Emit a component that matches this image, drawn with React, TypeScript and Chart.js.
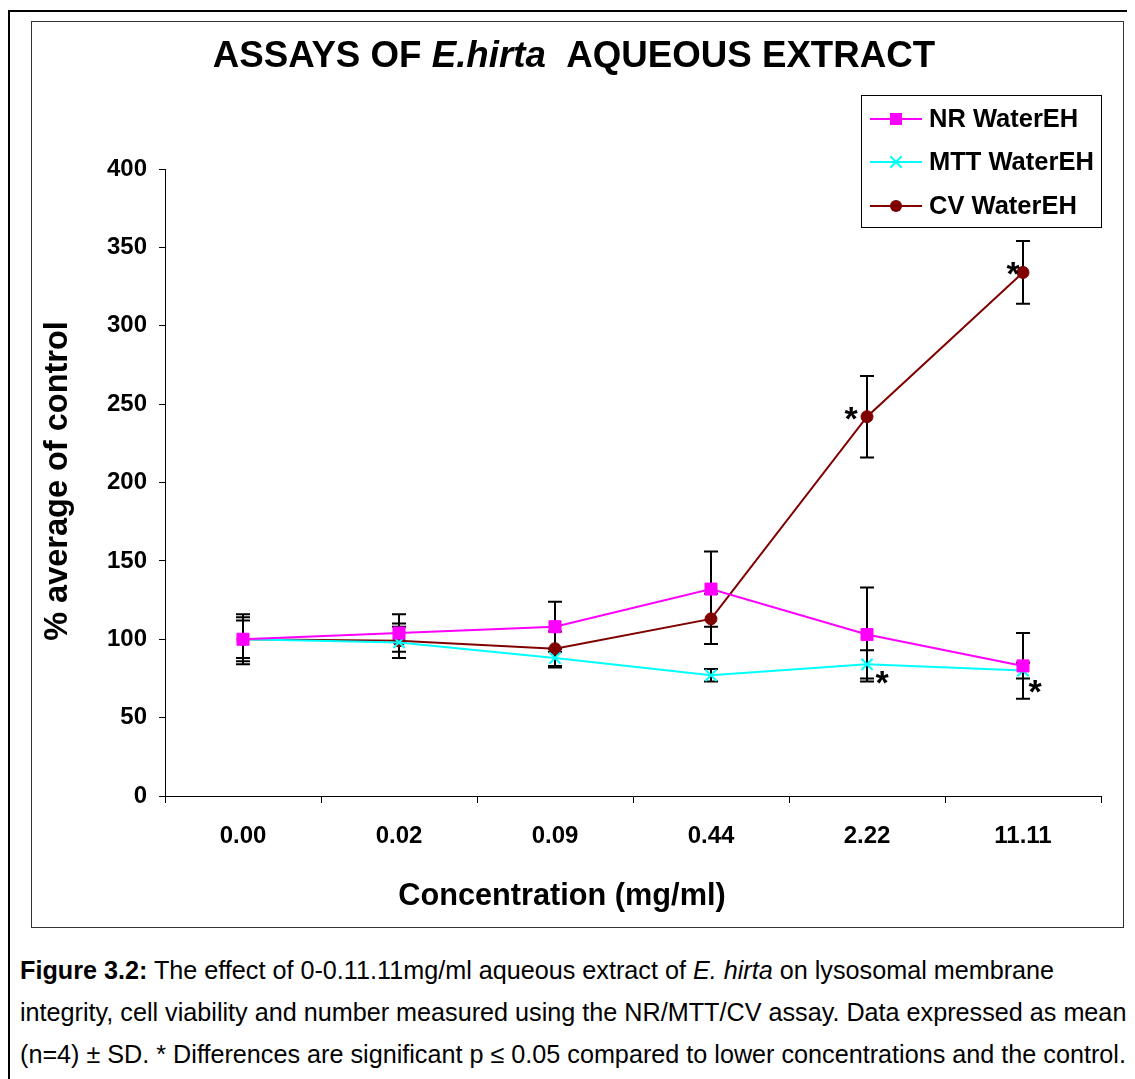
import React, { useEffect, useRef } from "react";
import { Chart, registerables } from "chart.js";

Chart.register(...registerables);

const FONT = "'Liberation Sans', Arial, sans-serif";

const categories = ["0.00", "0.02", "0.09", "0.44", "2.22", "11.11"];
const nrValues = [100, 104, 108, 132, 103, 83];
const nrSD = [14, 12, 16, 24, 30, 21];
const mttValues = [100, 98, 88, 77, 84, 80];
const mttSD = [12, 10, 6, 4, 9, 5];
const cvValues = [100, 99, 94, 113, 242, 334];
const cvSD = [16, 11, 11, 16, 26, 20];
const seriesNames = ["NR WaterEH", "MTT WaterEH", "CV WaterEH"];
const cvSignificant = [false, false, false, false, true, true];
const mttSignificant = [false, false, false, false, true, true];
const yTicks = { min: 0, max: 400, step: 50 };

const COLORS = ["#FF00FF", "#00FFFF", "#800000"];

function drawMarker(ctx: CanvasRenderingContext2D, style: string, color: string, cx: number, cy: number) {
  ctx.save();
  ctx.fillStyle = color;
  ctx.strokeStyle = color;
  if (style === "rect") {
    ctx.fillRect(cx - 6, cy - 6, 12, 12);
  } else if (style === "circle") {
    ctx.beginPath();
    ctx.arc(cx, cy, 6, 0, Math.PI * 2);
    ctx.fill();
  } else {
    ctx.lineWidth = 2;
    const r = 5.7;
    ctx.beginPath();
    ctx.moveTo(cx - r, cy - r);
    ctx.lineTo(cx + r, cy + r);
    ctx.moveTo(cx - r, cy + r);
    ctx.lineTo(cx + r, cy - r);
    ctx.stroke();
  }
  ctx.restore();
}

const errorBarPlugin = {
  id: "errorBars",
  beforeDatasetsDraw(chart: any) {
    const ctx = chart.ctx;
    const x = chart.scales.x;
    const y = chart.scales.y;
    const sets = [
      [nrValues, nrSD],
      [mttValues, mttSD],
      [cvValues, cvSD],
    ];
    ctx.save();
    ctx.strokeStyle = "#000";
    ctx.lineWidth = 2;
    sets.forEach(([vals, sds]) => {
      vals.forEach((v: number, i: number) => {
        const px = x.getPixelForValue(i);
        const top = y.getPixelForValue(v + sds[i]);
        const bot = y.getPixelForValue(v - sds[i]);
        ctx.beginPath();
        ctx.moveTo(px, top);
        ctx.lineTo(px, bot);
        ctx.moveTo(px - 7, top);
        ctx.lineTo(px + 7, top);
        ctx.moveTo(px - 7, bot);
        ctx.lineTo(px + 7, bot);
        ctx.stroke();
      });
    });
    ctx.restore();
  },
};

const decorPlugin = {
  id: "decor",
  afterDraw(chart: any) {
    const ctx = chart.ctx;
    const x = chart.scales.x;
    const y = chart.scales.y;
    ctx.save();

    // Title with italic part
    const parts = [
      { t: "ASSAYS OF ", f: `bold 36.7px ${FONT}` },
      { t: "E.hirta", f: `italic bold 36.7px ${FONT}` },
      { t: "  AQUEOUS EXTRACT", f: `bold 36.7px ${FONT}` },
    ];
    let total = 0;
    parts.forEach((p) => {
      ctx.font = p.f;
      total += ctx.measureText(p.t).width;
    });
    let tx = 543 - total / 2;
    ctx.fillStyle = "#000";
    ctx.textBaseline = "middle";
    ctx.textAlign = "left";
    parts.forEach((p) => {
      ctx.font = p.f;
      ctx.fillText(p.t, tx, 35);
      tx += ctx.measureText(p.t).width;
    });

    // Axis titles
    ctx.textAlign = "center";
    ctx.font = `bold 30.7px ${FONT}`;
    ctx.fillText("Concentration (mg/ml)", 531, 875);
    ctx.save();
    ctx.translate(27, 459);
    ctx.rotate(-Math.PI / 2);
    ctx.font = `bold 32.5px ${FONT}`;
    ctx.fillText("% average of control", 0, 0);
    ctx.restore();

    // Significance asterisks
    ctx.font = `bold 34px ${FONT}`;
    ctx.textBaseline = "alphabetic";
    const star = (i: number, v: number, dx: number, dy: number) => {
      const px = x.getPixelForValue(i) + dx;
      const py = y.getPixelForValue(v) + dy + 18;
      ctx.fillText("*", px, py);
    };
    cvSignificant.forEach((s, i) => {
      if (s) star(i, cvValues[i], i === 4 ? -16 : -10, -5);
    });
    mttSignificant.forEach((s, i) => {
      if (s) star(i, mttValues[i], i === 4 ? 15 : 12, i === 4 ? 12 : 14);
    });

    // Legend
    const lx = 830, ly = 73, lw = 240, lh = 132;
    ctx.fillStyle = "#fff";
    ctx.fillRect(lx, ly, lw, lh);
    ctx.strokeStyle = "#000";
    ctx.lineWidth = 1;
    ctx.strokeRect(lx + 0.5, ly + 0.5, lw, lh);
    const rows = [97, 140, 184];
    const styles = ["rect", "crossRot", "circle"];
    chart.data.datasets.forEach((ds: any, k: number) => {
      const ry = rows[k];
      ctx.strokeStyle = ds.borderColor;
      ctx.lineWidth = 2;
      ctx.beginPath();
      ctx.moveTo(839, ry);
      ctx.lineTo(891, ry);
      ctx.stroke();
      drawMarker(ctx, styles[k], ds.borderColor, 865, ry);
      ctx.fillStyle = "#000";
      ctx.font = `bold 25.5px ${FONT}`;
      ctx.textAlign = "left";
      ctx.textBaseline = "middle";
      ctx.fillText(ds.label, 898, ry + 1);
    });
    ctx.restore();
  },
};

export default function App() {
  const ref = useRef<HTMLCanvasElement | null>(null);
  useEffect(() => {
    if (!ref.current) return;
    const mk = (label: string, data: number[], color: string, style: string, radius: number, bw: number) => ({
      label,
      data,
      borderColor: color,
      backgroundColor: color,
      borderWidth: 2,
      pointStyle: style,
      pointRadius: radius,
      pointHoverRadius: radius,
      pointBackgroundColor: color,
      pointBorderColor: color,
      pointBorderWidth: bw,
      tension: 0,
    });
    const chart = new Chart(ref.current, {
      type: "line",
      data: {
        labels: categories,
        datasets: [
          mk(seriesNames[0], nrValues, COLORS[0], "rect", 8.5, 1),
          mk(seriesNames[1], mttValues, COLORS[1], "crossRot", 8, 2),
          mk(seriesNames[2], cvValues, COLORS[2], "circle", 6, 1),
        ],
      },
      options: {
        animation: false,
        responsive: false,
        devicePixelRatio: 1,
        layout: { padding: { top: 147, right: 22, left: 0, bottom: 0 } },
        plugins: { legend: { display: false }, title: { display: false }, tooltip: { enabled: false } },
        scales: {
          x: {
            offset: true,
            grid: { offset: true, drawOnChartArea: false, drawTicks: true, tickLength: 7, color: "#000" },
            border: { display: true, color: "#000", width: 1 },
            ticks: { color: "#000", padding: 19, font: { family: FONT, size: 24, weight: "bold" } },
            afterFit: (s: any) => {
              s.height = 132;
            },
          },
          y: {
            min: yTicks.min,
            max: yTicks.max,
            grid: { drawOnChartArea: false, drawTicks: true, tickLength: 6, color: "#000" },
            border: { display: true, color: "#000", width: 1 },
            ticks: { stepSize: yTicks.step, color: "#000", padding: 12, font: { family: FONT, size: 24, weight: "bold" } },
            afterFit: (s: any) => {
              s.width = 134;
            },
          },
        },
      },
      plugins: [errorBarPlugin, decorPlugin],
    } as any);
    return () => chart.destroy();
  }, []);

  const caption: React.CSSProperties = {
    position: "absolute",
    left: 12,
    top: 941,
    fontFamily: FONT,
    fontSize: 25.2,
    lineHeight: "42px",
    color: "#000",
    whiteSpace: "nowrap",
  };

  return (
    <div style={{ position: "relative", width: 1127, height: 1071, overflow: "hidden", background: "#fff" }}>
      <div
        style={{
          position: "absolute",
          left: 0,
          top: 2,
          width: 1200,
          height: 1200,
          borderTop: "2px solid #000",
          borderLeft: "2px solid #000",
        }}
      />
      <div
        style={{
          position: "absolute",
          left: 23,
          top: 13,
          width: 1093,
          height: 907,
          border: "1px solid #333",
          boxSizing: "border-box",
        }}
      />
      <canvas ref={ref} width={1092} height={906} style={{ position: "absolute", left: 23, top: 14 }} />
      <div style={caption}>
        <div>
          <b>Figure 3.2:</b> The effect of 0-0.11.11mg/ml aqueous extract of <i>E. hirta</i> on lysosomal membrane
        </div>
        <div>integrity, cell viability and number measured using the NR/MTT/CV assay. Data expressed as mean</div>
        <div>(n=4) ± SD. * Differences are significant p ≤ 0.05 compared to lower concentrations and the control.</div>
      </div>
    </div>
  );
}
